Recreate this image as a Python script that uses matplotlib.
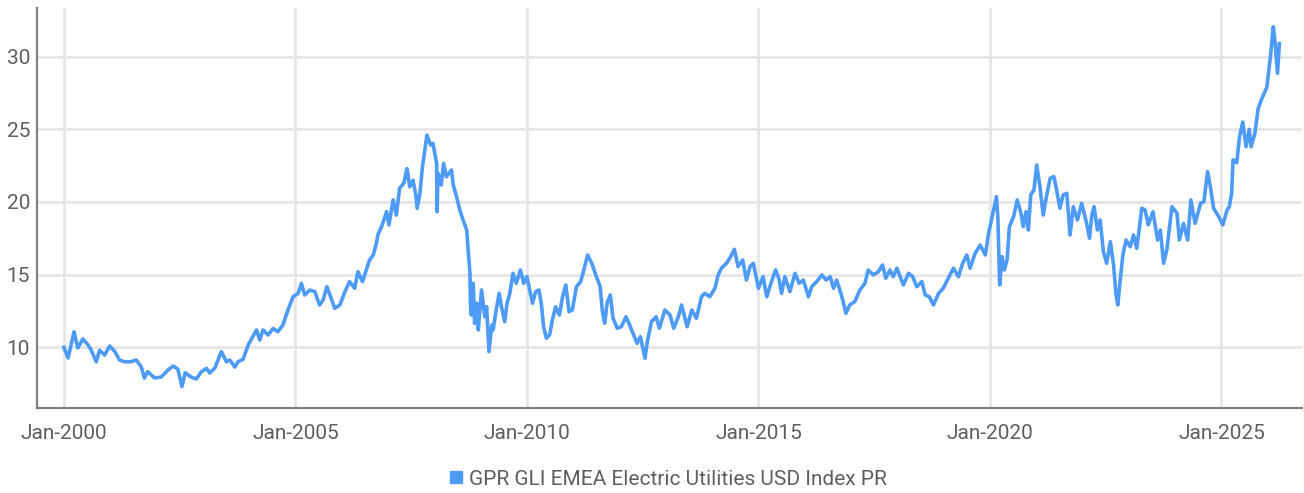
import matplotlib
matplotlib.use("Agg")
from matplotlib import pyplot as plt
from matplotlib.lines import Line2D

# fractional years and index levels
years = [
    2000.00, 2000.09, 2000.22, 2000.30, 2000.41, 2000.52, 2000.59, 2000.70, 2000.77, 2000.88,
    2000.99, 2001.10, 2001.20, 2001.31, 2001.45, 2001.56, 2001.67, 2001.74, 2001.81, 2001.96,
    2002.10, 2002.25, 2002.36, 2002.46, 2002.55, 2002.62, 2002.75, 2002.86, 2002.97, 2003.08,
    2003.15, 2003.26, 2003.40, 2003.51, 2003.58, 2003.69, 2003.76, 2003.87, 2003.98, 2004.16,
    2004.23, 2004.30, 2004.41, 2004.52, 2004.62, 2004.73, 2004.84, 2004.95, 2005.06, 2005.13,
    2005.20, 2005.31, 2005.42, 2005.52, 2005.60, 2005.68, 2005.76, 2005.85, 2005.96, 2006.07,
    2006.17, 2006.28, 2006.35, 2006.45, 2006.52, 2006.60, 2006.68, 2006.75, 2006.78, 2006.86,
    2006.97, 2007.02, 2007.11, 2007.18, 2007.25, 2007.34, 2007.41, 2007.47, 2007.54, 2007.60,
    2007.63, 2007.69, 2007.74, 2007.84, 2007.92, 2007.97, 2008.05, 2008.06, 2008.08, 2008.15,
    2008.20, 2008.26, 2008.37, 2008.41, 2008.48, 2008.55, 2008.62, 2008.70, 2008.73, 2008.77,
    2008.78, 2008.80, 2008.84, 2008.87, 2008.92, 2008.95, 2009.02, 2009.09, 2009.13, 2009.18,
    2009.24, 2009.27, 2009.33, 2009.40, 2009.45, 2009.52, 2009.57, 2009.63, 2009.70, 2009.77,
    2009.86, 2009.93, 2010.00, 2010.06, 2010.12, 2010.19, 2010.26, 2010.31, 2010.36, 2010.42,
    2010.49, 2010.55, 2010.62, 2010.70, 2010.77, 2010.84, 2010.91, 2010.98, 2011.07, 2011.16,
    2011.21, 2011.31, 2011.40, 2011.50, 2011.58, 2011.63, 2011.68, 2011.73, 2011.80, 2011.86,
    2011.95, 2012.04, 2012.14, 2012.22, 2012.29, 2012.38, 2012.45, 2012.55, 2012.60, 2012.69,
    2012.79, 2012.86, 2012.98, 2013.09, 2013.17, 2013.27, 2013.34, 2013.46, 2013.56, 2013.66,
    2013.77, 2013.84, 2013.95, 2014.06, 2014.13, 2014.20, 2014.31, 2014.40, 2014.48, 2014.56,
    2014.66, 2014.74, 2014.82, 2014.89, 2015.00, 2015.10, 2015.18, 2015.27, 2015.37, 2015.44,
    2015.50, 2015.57, 2015.68, 2015.79, 2015.88, 2015.97, 2016.08, 2016.15, 2016.26, 2016.37,
    2016.46, 2016.55, 2016.62, 2016.69, 2016.78, 2016.83, 2016.89, 2016.97, 2017.08, 2017.19,
    2017.30, 2017.37, 2017.48, 2017.59, 2017.68, 2017.75, 2017.84, 2017.91, 2017.99, 2018.06,
    2018.13, 2018.24, 2018.33, 2018.42, 2018.53, 2018.60, 2018.69, 2018.78, 2018.89, 2018.99,
    2019.10, 2019.21, 2019.32, 2019.41, 2019.50, 2019.57, 2019.68, 2019.79, 2019.90, 2019.97,
    2020.04, 2020.14, 2020.17, 2020.21, 2020.26, 2020.31, 2020.37, 2020.42, 2020.51, 2020.59,
    2020.67, 2020.72, 2020.78, 2020.83, 2020.88, 2020.95, 2021.01, 2021.08, 2021.15, 2021.22,
    2021.30, 2021.38, 2021.44, 2021.51, 2021.58, 2021.66, 2021.73, 2021.80, 2021.89, 2021.98,
    2022.08, 2022.15, 2022.20, 2022.25, 2022.32, 2022.38, 2022.45, 2022.52, 2022.60, 2022.67,
    2022.72, 2022.76, 2022.81, 2022.87, 2022.94, 2023.03, 2023.10, 2023.17, 2023.28, 2023.35,
    2023.42, 2023.52, 2023.62, 2023.68, 2023.75, 2023.82, 2023.93, 2024.04, 2024.09, 2024.18,
    2024.27, 2024.34, 2024.43, 2024.55, 2024.62, 2024.70, 2024.76, 2024.83, 2024.94, 2025.03,
    2025.12, 2025.17, 2025.22, 2025.25, 2025.33, 2025.39, 2025.46, 2025.53, 2025.60, 2025.64,
    2025.72, 2025.79, 2025.87, 2025.98, 2026.05, 2026.12, 2026.16, 2026.21, 2026.25,
]
index_level = [
    10.00, 9.26, 11.07, 9.95, 10.57, 10.16, 9.80, 9.00, 9.80, 9.47,
    10.09, 9.70, 9.13, 9.00, 9.00, 9.13, 8.66, 7.88, 8.32, 7.89,
    7.95, 8.44, 8.71, 8.50, 7.29, 8.25, 7.95, 7.82, 8.32, 8.55,
    8.23, 8.57, 9.70, 9.00, 9.13, 8.64, 9.00, 9.17, 10.16, 11.19,
    10.50, 11.19, 10.85, 11.30, 11.07, 11.53, 12.57, 13.48, 13.71, 14.40,
    13.60, 13.94, 13.83, 12.91, 13.26, 14.17, 13.48, 12.68, 12.91, 13.83,
    14.52, 14.06, 15.20, 14.52, 15.20, 16.00, 16.35, 17.16, 17.73, 18.30,
    19.33, 18.42, 20.14, 19.10, 20.94, 21.28, 22.30, 21.05, 21.50, 20.48,
    19.56, 20.60, 22.32, 24.60, 23.92, 24.04, 22.66, 19.33, 21.97, 21.17,
    22.66, 21.74, 22.20, 21.17, 20.37, 19.45, 18.76, 18.07, 16.70, 15.09,
    13.03, 12.22, 14.40, 11.65, 13.03, 11.19, 13.94, 12.10, 12.79, 9.70,
    11.53, 11.19, 12.45, 13.71, 12.79, 11.76, 13.03, 13.71, 15.09, 14.40,
    15.32, 14.40, 14.86, 13.94, 13.03, 13.83, 13.94, 13.03, 11.42, 10.62,
    10.85, 11.88, 12.79, 12.22, 13.48, 14.29, 12.45, 12.57, 14.17, 14.52,
    15.09, 16.35, 15.78, 14.86, 14.20, 12.45, 11.65, 13.03, 13.60, 12.00,
    11.31, 11.42, 12.10, 11.53, 10.96, 10.27, 10.73, 9.24, 10.39, 11.76,
    12.10, 11.31, 12.57, 12.22, 11.31, 12.10, 12.91, 11.42, 12.57, 12.00,
    13.48, 13.71, 13.48, 14.06, 14.98, 15.44, 15.78, 16.24, 16.74, 15.55,
    16.01, 14.63, 15.55, 15.78, 14.06, 14.86, 13.48, 14.40, 15.32, 14.75,
    13.71, 14.86, 13.83, 15.09, 14.40, 14.63, 13.48, 14.17, 14.52, 14.98,
    14.63, 14.86, 14.06, 14.63, 13.71, 13.14, 12.34, 12.91, 13.14, 13.94,
    14.40, 15.32, 14.98, 15.20, 15.66, 14.75, 15.32, 14.86, 15.44, 14.86,
    14.29, 15.09, 14.86, 14.17, 14.52, 13.60, 13.48, 12.91, 13.71, 14.06,
    14.75, 15.44, 14.86, 15.78, 16.35, 15.44, 16.47, 17.04, 16.35, 17.84,
    18.88, 20.37, 18.99, 14.29, 16.24, 15.32, 16.01, 18.30, 18.99, 20.14,
    19.22, 18.30, 19.33, 18.07, 20.48, 20.83, 22.55, 21.05, 19.10, 20.37,
    21.63, 21.74, 20.83, 19.57, 20.48, 20.60, 17.73, 19.68, 18.76, 19.91,
    18.64, 17.50, 19.10, 19.68, 18.07, 18.76, 16.58, 15.78, 17.27, 15.66,
    13.71, 12.91, 14.52, 16.35, 17.38, 16.92, 17.73, 16.81, 19.57, 19.45,
    18.42, 19.33, 17.38, 18.07, 15.78, 16.70, 19.68, 19.22, 17.38, 18.53,
    17.38, 20.14, 18.53, 19.91, 20.02, 22.09, 21.05, 19.57, 18.99, 18.42,
    19.45, 19.68, 20.60, 22.90, 22.70, 24.50, 25.50, 23.80, 25.00, 23.80,
    24.70, 26.40, 27.10, 27.90, 29.80, 32.06, 30.90, 28.86, 30.90,
]
series_name = "GPR GLI EMEA Electric Utilities USD Index PR"
x_ticks = [2000, 2005, 2010, 2015, 2020, 2025]
x_tick_labels = [f"Jan-{y}" for y in x_ticks]
y_ticks = [10, 15, 20, 25, 30]

LINE_COLOR = "#4D9BF7"
TEXT_COLOR = "#5f5f5f"
plt.rcParams["font.family"] = ["Roboto", "DejaVu Sans"]

fig = plt.figure(figsize=(13.04, 4.93), dpi=100)
ax = fig.add_axes([0.0284, 0.1718, 0.9701, 0.8114])
ax.plot(years, index_level, color=LINE_COLOR, linewidth=2.6, solid_joinstyle="round")

ax.set_xlim(1999.42, 2026.74)
ax.set_ylim(5.8, 33.33)
ax.set_xticks(x_ticks)
ax.set_xticklabels(x_tick_labels)
ax.set_yticks(y_ticks)
ax.grid(True, color="#e6e6e6", linewidth=2.0)
ax.set_axisbelow(True)
for side in ("top", "right"):
    ax.spines[side].set_visible(False)
for side in ("left", "bottom"):
    ax.spines[side].set_color("#808080")
    ax.spines[side].set_linewidth(1.6)
ax.tick_params(axis="both", length=0, labelsize=15, labelcolor=TEXT_COLOR)
ax.tick_params(axis="x", pad=11)
ax.tick_params(axis="y", pad=5)

handle = Line2D([], [], marker="s", linestyle="none", markersize=8, color=LINE_COLOR)
fig.legend(
    [handle],
    [series_name],
    loc="center",
    bbox_to_anchor=(0.511, 0.028),
    frameon=False,
    fontsize=15,
    labelcolor=TEXT_COLOR,
    handletextpad=0.1,
    handlelength=1.0,
)

fig.savefig("out.png", dpi=100)
